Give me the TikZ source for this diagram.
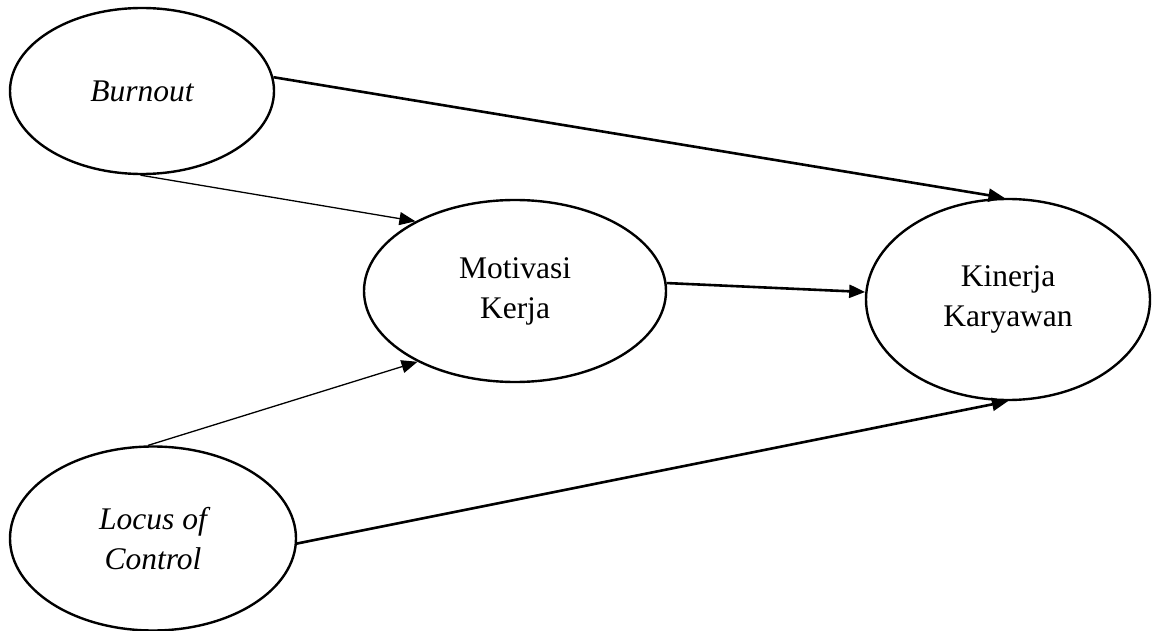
\documentclass[tikz,border=0pt]{standalone}
\usepackage{fontspec}
\setmainfont{Liberation Serif}
\usetikzlibrary{shapes.geometric,arrows.meta}

\begin{document}
\begin{tikzpicture}[x=0.5pt,y=-0.5pt,
  construct/.style={ellipse,draw,line width=1.2pt,inner sep=0pt,align=center,
    font=\fontsize{15.75pt}{20pt}\selectfont},
  pathbold/.style={line width=1.3pt,-{Triangle[length=8pt,width=6.5pt]}},
  paththin/.style={line width=0.65pt,-{Triangle[length=8pt,width=6.5pt]}}]
  \useasboundingbox (0,0) rectangle (1153,631);

  % latent variables
  \node[construct,minimum width=132pt,minimum height=83pt] (burn) at (142,91) {\itshape Burnout};
  \node[construct,minimum width=151pt,minimum height=91pt] (moti) at (515,291) {Motivasi\\Kerja};
  \node[construct,minimum width=142pt,minimum height=100.5pt] (kin) at (1008,299.5) {Kinerja\\Karyawan};
  \node[construct,minimum width=143pt,minimum height=92pt] (loc) at (153,538.5) {\itshape Locus of\\\itshape Control};

  % paths
  \draw[pathbold] (burn.6) -- (kin.92);
  \draw[paththin] (burn.-91) -- (moti.145);
  \draw[pathbold] (moti.3) -- (kin.177);
  \draw[paththin] (loc.93) -- (moti.216);
  \draw[pathbold] (loc.-2) -- (kin.-90);
\end{tikzpicture}
\end{document}
